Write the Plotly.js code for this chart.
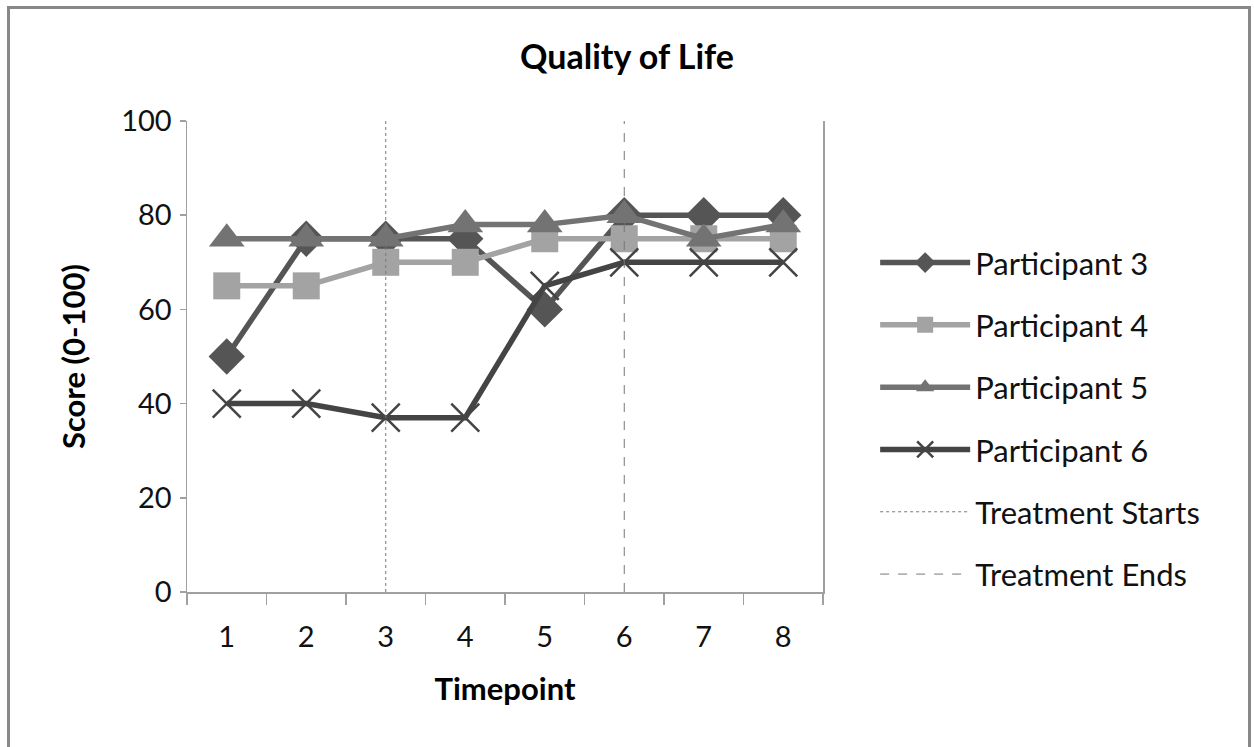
<!DOCTYPE html>
<html><head><meta charset="utf-8">
<script src="https://cdn.plot.ly/plotly-3.0.1.min.js"></script>
<style>
body{margin:0;background:#fff;}
#wrap{position:relative;width:1254px;height:747px;overflow:hidden;}
#chart{width:1254px;height:747px;}
#frame{position:absolute;left:7px;top:6px;width:1238px;height:800px;border:3px solid #888;pointer-events:none;}
</style></head>
<body><div id="wrap"><div id="chart"></div><div id="frame"></div></div>
<script>
const timepoints = ['1','2','3','4','5','6','7','8'];
const p3 = [50, 75, 75, 75, 60, 80, 80, 80];
const p4 = [65, 65, 70, 70, 75, 75, 75, 75];
const p5 = [75, 75, 75, 78, 78, 80, 75, 78];
const p6 = [40, 40, 37, 37, 65, 70, 70, 70];
const treatStartX = ['3','3'];
const treatEndX = ['6','6'];
const lineY = [0, 100];
const yTicks = [0, 20, 40, 60, 80, 100];

const F = 'Lato, "Open Sans", sans-serif';
const traces = [
  {x: timepoints, y: p3, name: 'Participant 3', mode: 'lines+markers', legendgroup: 'a',
   line: {color: '#555555', width: 5.5}, marker: {symbol: 'diamond', size: 28, color: '#555555'}},
  {x: timepoints, y: p4, name: 'Participant 4', mode: 'lines+markers', legendgroup: 'b',
   line: {color: '#a3a3a3', width: 5.5}, marker: {symbol: 'square', size: 27, color: '#a3a3a3'}},
  {x: timepoints, y: p5, name: 'Participant 5', mode: 'lines+markers', legendgroup: 'c',
   line: {color: '#737373', width: 5.5}, marker: {symbol: 'triangle-up', size: 31, color: '#737373'}},
  {x: timepoints, y: p6, name: 'Participant 6', mode: 'lines+markers', legendgroup: 'd',
   line: {color: '#444444', width: 5.5}, marker: {symbol: 'x-thin-open', size: 28, color: '#444444', line: {width: 2.5, color: '#444444'}}},
  {x: treatStartX, y: lineY, name: 'Treatment Starts', mode: 'lines', legendgroup: 'e',
   line: {color: '#777777', width: 1, dash: 'dot'}},
  {x: treatEndX, y: lineY, name: 'Treatment Ends', mode: 'lines', legendgroup: 'f',
   line: {color: '#777777', width: 1, dash: 'dash'}}
];

const layout = {
  width: 1254, height: 747,
  margin: {l: 187, r: 431, t: 121, b: 155},
  paper_bgcolor: '#fff', plot_bgcolor: '#fff',
  title: {text: '<b>Quality of Life</b>', font: {family: F, size: 34, color: '#000'}, x: 0.5, xref: 'container', xanchor: 'center', y: 0.924, yref: 'container', yanchor: 'middle'},
  showlegend: true,
  legend: {x: 1.082, y: 0.756, xanchor: 'left', yanchor: 'top', traceorder: 'grouped', tracegroupgap: 19,
           font: {family: F, size: 31, color: '#111'}, bgcolor: 'rgba(0,0,0,0)', itemwidth: 90},
  xaxis: {type: 'category', categoryorder: 'array', categoryarray: timepoints, range: [-0.5, 7.5],
          tickson: 'boundaries', ticks: 'outside', ticklen: 11, tickcolor: '#a0a0a0', tickwidth: 1.5,
          showline: true, linecolor: '#a0a0a0', linewidth: 1.5, showgrid: false, zeroline: false,
          tickfont: {family: F, size: 29, color: '#111'}, ticklabelstandoff: 19,
          title: {text: '<b>Timepoint</b>', font: {family: F, size: 31, color: '#000'}, standoff: 26}},
  yaxis: {range: [0, 100], tickvals: yTicks, ticks: 'outside', ticklen: 6, tickcolor: '#a0a0a0', tickwidth: 1.5,
          showline: true, mirror: true, linecolor: '#a0a0a0', linewidth: 1.5, showgrid: false, zeroline: false,
          tickfont: {family: F, size: 29, color: '#111'}, ticklabelstandoff: 2,
          title: {text: '<b>Score (0-100)</b>', font: {family: F, size: 31, color: '#000'}, standoff: 26}}
};
Plotly.newPlot('chart', traces, layout, {displayModeBar: false, staticPlot: true});
</script></body></html>
